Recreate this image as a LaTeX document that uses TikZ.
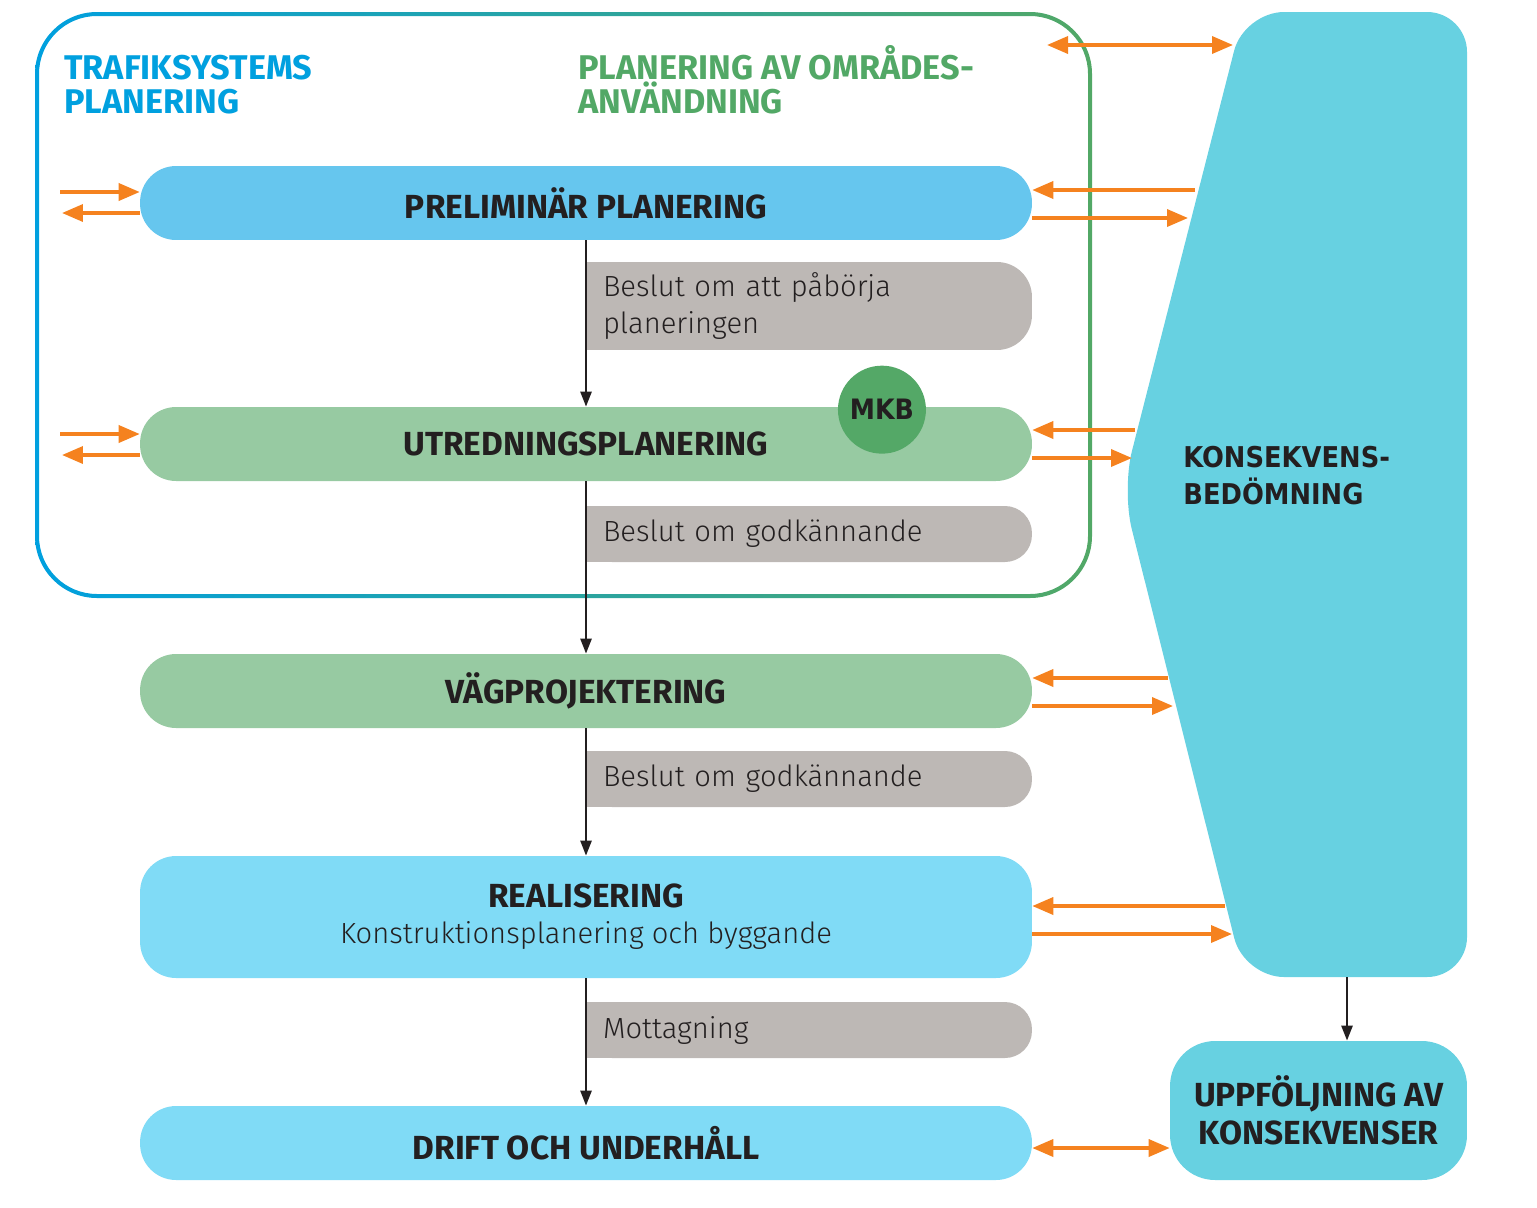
\documentclass[tikz,border=0pt]{standalone}
\usepackage{fontspec}
\setmainfont{Fira Sans}
\newfontfamily\lightfont{Fira Sans Light}
\newfontfamily\kfont{DejaVu Sans Condensed}
\usetikzlibrary{arrows.meta,backgrounds}
\definecolor{ink}{RGB}{35,31,32}
\definecolor{tblue}{RGB}{0,160,223}
\definecolor{tteal}{RGB}{20,165,160}
\definecolor{tgreen}{RGB}{82,168,102}
\definecolor{prelblue}{RGB}{102,198,238}
\definecolor{utgreen}{RGB}{151,202,162}
\definecolor{mkbgreen}{RGB}{84,168,103}
\definecolor{dgray}{RGB}{189,184,181}
\definecolor{realblue}{RGB}{128,219,246}
\definecolor{kcyan}{RGB}{103,209,225}
\definecolor{orng}{RGB}{245,130,31}
\tikzset{
  phase/.style={rounded corners=0.72cm, minimum width=17.84cm, minimum height=1.48cm,
    inner sep=0pt, align=center, text=ink, font=\bfseries\fontsize{19}{20.5}\selectfont},
  decision/.style={fill=dgray, rounded corners=0.54cm, text width=8.22cm, inner xsep=0.36cm,
    inner ysep=0pt, align=left, text=ink, font=\lightfont\fontsize{16.6}{21}\selectfont},
  heading/.style={anchor=base west, inner sep=0pt, align=left,
    font=\bfseries\fontsize{19.5}{19.3}\selectfont},
  flow/.style={-{Triangle[length=0.3cm,width=0.22cm]}, line width=0.05cm, ink},
  orarrow/.style={-{Triangle[length=0.42cm,width=0.34cm]}, line width=0.07cm, orng},
  orboth/.style={{Triangle[length=0.42cm,width=0.34cm]}-{Triangle[length=0.42cm,width=0.34cm]},
    line width=0.07cm, orng},
}
\begin{document}
\begin{tikzpicture}[x=0.02cm,y=-0.02cm]
  \useasboundingbox (0,0) rectangle (1537,1207);
  % planning frame, blue to green
  \shade[left color=tblue, middle color=tteal, right color=tgreen, even odd rule,
    rounded corners=1.24cm] (35,12) rectangle (1092,598)
    [rounded corners=1.16cm] (39,16) rectangle (1088,594);
  \node[heading, text=tblue] (tsp) at (64,113) {TRAFIKSYSTEMS\\PLANERING};
  \node[heading, text=tgreen] (pao) at (578,113) {PLANERING AV OMRÅDES-\\ANVÄNDNING};

  % impact assessment
  \fill[kcyan, rounded corners=0.8cm] (1244,12) -- (1467,12) -- (1467,977) -- (1244,977)
    -- (1122,490) -- cycle;
  \node[anchor=base west, inner sep=0pt, align=left, text=ink,
    font=\kfont\bfseries\fontsize{16.3}{20.5}\selectfont] (kb) at (1183,504) {KONSEKVENS-\\BEDÖMNING};
  \node[fill=kcyan, rounded corners=0.9cm, minimum width=5.94cm, minimum height=2.78cm,
    align=center, text=ink, font=\bfseries\fontsize{19}{21.5}\selectfont]
    (uk) at (1318.5,1110.5) {UPPFÖLJNING AV\\KONSEKVENSER};

  % phases
  \node[phase, fill=prelblue] (pp) at (586,203) {PRELIMINÄR PLANERING};
  \node[phase, fill=utgreen] (up) at (586,444) {UTREDNINGSPLANERING};
  \node[phase, fill=utgreen] (vp) at (586,691) {VÄGPROJEKTERING};
  \node[phase, fill=realblue, minimum height=2.44cm] (re) at (586,917)
    {REALISERING\\{\lightfont\mdseries\fontsize{16.6}{20.5}\selectfont Konstruktionsplanering och byggande}};
  \node[phase, fill=realblue] (dr) at (586,1143) {DRIFT OCH UNDERHÅLL};
  \node[circle, fill=mkbgreen, minimum size=1.76cm, inner sep=0pt, text=ink,
    font=\kfont\bfseries\fontsize{16}{18}\selectfont] (mkb) at ([xshift=5.92cm,yshift=-0.06cm]up.north) {MKB};

  % decisions
  \node[decision, minimum height=1.76cm, rounded corners=0.7cm] (d1) at (808.5,306) {Beslut om att påbörja\\planeringen};
  \node[decision, minimum height=1.12cm] (d2) at (808.5,534) {Beslut om godkännande};
  \node[decision, minimum height=1.12cm] (d3) at (808.5,779) {Beslut om godkännande};
  \node[decision, minimum height=1.12cm] (d4) at (808.5,1030) {Mottagning};
  \begin{scope}[on background layer]
    \foreach \d in {d1,d2,d3,d4}
      \fill[dgray] (\d.north west) rectangle (\d.south);
  \end{scope}

  % flow
  \draw[flow] (pp) -- (up);
  \draw[flow] (up) -- (vp);
  \draw[flow] (vp) -- (re);
  \draw[flow] (re) -- (dr);
  \coordinate (kbot) at (1347,977);
  \draw[flow] (kbot) -- (kbot |- uk.north);

  % exchange with the left
  \coordinate (pl1) at (60,192);
  \coordinate (pl2) at (62,213);
  \coordinate (ul1) at (60,434);
  \coordinate (ul2) at (62,455);
  \draw[orarrow] (pl1) -- (pl1 -| pp.west);
  \draw[orarrow] (pl2 -| pp.west) -- (pl2);
  \draw[orarrow] (ul1) -- (ul1 -| up.west);
  \draw[orarrow] (ul2 -| up.west) -- (ul2);

  % exchange with the assessment
  \coordinate (k0) at (1233,45);
  \coordinate (f0) at (1047,45);
  \coordinate (k1) at (1195,190);
  \coordinate (k2) at (1188,218);
  \coordinate (k3) at (1135,430);
  \coordinate (k4) at (1132,458);
  \coordinate (k5) at (1168,678);
  \coordinate (k6) at (1173,706);
  \coordinate (k7) at (1225,906);
  \coordinate (k8) at (1232,934);
  \draw[orboth] (f0) -- (k0);
  \draw[orarrow] (k1) -- (k1 -| pp.east);
  \draw[orarrow] (k2 -| pp.east) -- (k2);
  \draw[orarrow] (k3) -- (k3 -| up.east);
  \draw[orarrow] (k4 -| up.east) -- (k4);
  \draw[orarrow] (k5) -- (k5 -| vp.east);
  \draw[orarrow] (k6 -| vp.east) -- (k6);
  \draw[orarrow] (k7) -- (k7 -| re.east);
  \draw[orarrow] (k8 -| re.east) -- (k8);
  \draw[orboth] ([yshift=-0.1cm]dr.east) -- ([yshift=-0.1cm]dr.east -| uk.west);
\end{tikzpicture}
\end{document}
